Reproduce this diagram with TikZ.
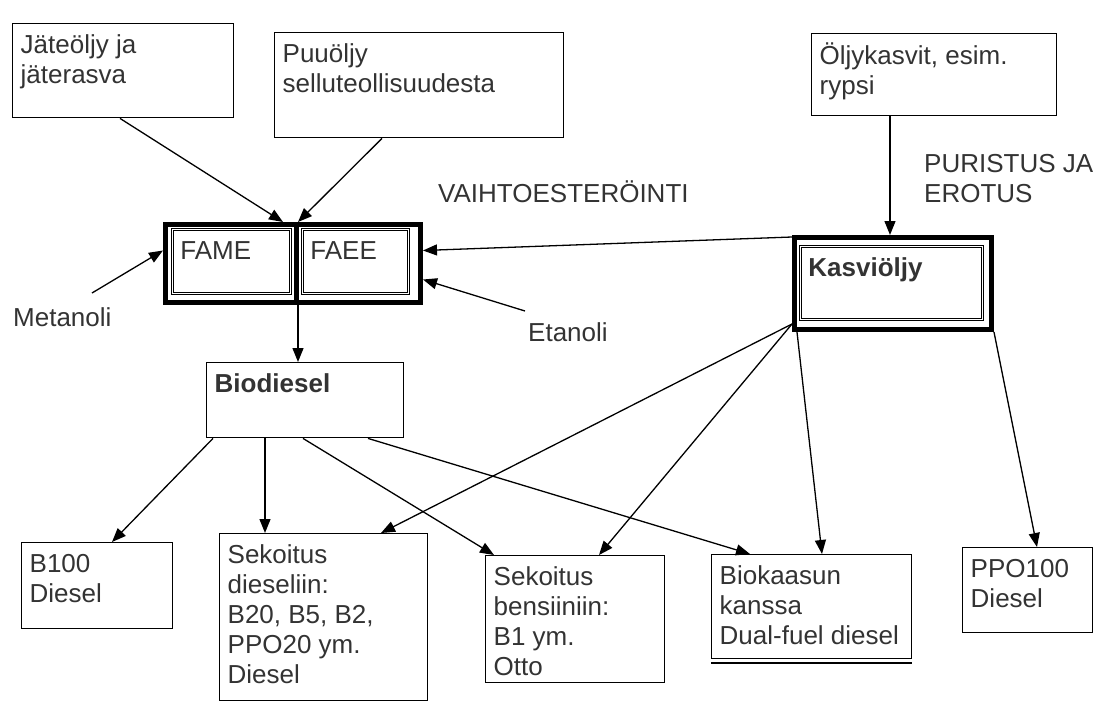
\documentclass[tikz,border=0pt]{standalone}
\usepackage{fontspec}
\setmainfont{Liberation Sans}
\usetikzlibrary{arrows.meta}
\def\boxtext(#1,#2)#3{\parbox[t][\dimexpr#2pt-18pt\relax][t]{\dimexpr#1pt-16pt\relax}{\raggedright\strut#3}}

\begin{document}
\begin{tikzpicture}[x=1pt, y=-1pt,
	every node/.style={font=\fontsize{26}{30}\selectfont, text=black!80},
	box/.style={draw, line width=1.4pt, anchor=north west, inner xsep=8pt, inner ysep=9pt},
	inbox/.style={box, double, double distance=1.6pt, line width=0.8pt},
	heavybox/.style={draw, line width=5pt, anchor=north west, inner sep=0pt},
	lbl/.style={anchor=base west, inner sep=0pt},
	arr/.style={-{Triangle[length=14pt,width=11pt]}, line width=1.3pt}]
			%%%%% FRAME %%%%%
			\useasboundingbox (0,0) rectangle (1104,709);
			
			%%%%% RAW MATERIALS %%%%%
			\node[box] (jate) at (12,23) {\boxtext(221,94){Jäteöljy ja\\jäterasva}};
			\node[box] (puu) at (274,32) {\boxtext(289,105){Puuöljy\\selluteollisuudesta}};
			\node[box] (oljy) at (811,33) {\boxtext(245,82){Öljykasvit, esim.\\rypsi}};
			
			%%%%% ESTERS %%%%%
			\node[heavybox, minimum width=255pt, minimum height=78pt] (ester) at (163,222) {};
			\node[inbox] (fame) at (172,229) {\boxtext(118,64){FAME}};
			\node[inbox] (faee) at (302,229) {\boxtext(106,64){FAEE}};
			\draw[line width=5pt] ([xshift=133pt]ester.north west) -- ([xshift=133pt]ester.south west);
			
			%%%%% VEGETABLE OIL %%%%%
			\node[heavybox, minimum width=197pt, minimum height=92pt] (kasvi) at (792,235) {};
			\node[inbox] (kasvi-in) at (800,246) {\boxtext(182,73){\bfseries Kasviöljy}};
			
			\node[box] (bio) at (206,362) {\boxtext(197,75){\bfseries Biodiesel}};
			
			%%%%% USES %%%%%
			\node[box] (b100) at (21,542) {\boxtext(151,86){B100\\Diesel}};
			\node[box] (sekd) at (219,533) {\boxtext(208,167){Sekoitus\\dieseliin:\\B20, B5, B2,\\PPO20 ym.\\Diesel}};
			\node[box] (sekb) at (485,555) {\boxtext(179,127){Sekoitus\\bensiiniin:\\B1 ym.\\Otto}};
			\node[box] (biok) at (711,554) {\boxtext(200,104){Biokaasun\\kanssa\\Dual-fuel diesel}};
			\draw[line width=1.4pt] ([yshift=-3.5pt]biok.south west) -- ([yshift=-3.5pt]biok.south east);
			\node[box] (ppo) at (962,547) {\boxtext(130,85){PPO100\\Diesel}};
			
			%%%%% LABELS %%%%%
			\node[lbl] (meta) at (13,326) {Metanoli};
			\node[lbl] (eta) at (528,341) {Etanoli};
			\node[lbl] (vaiht) at (438,202) {VAIHTOESTERÖINTI};
			\node[lbl, anchor=north west, align=left] (purist) at (924,154) {PURISTUS JA\\EROTUS};
			
			%%%%% ARROWS %%%%%
			\draw[arr] ([xshift=108pt]jate.south west) -- ([xshift=120pt]ester.north west);
			\draw[arr] ([xshift=108pt]puu.south west) -- ([xshift=135pt]ester.north west);
			\draw[arr] ([xshift=79pt,yshift=33pt]meta.base west) -- ([yshift=13pt]ester.west);
			\draw[arr] ([yshift=-2pt]kasvi.north west) -- ([yshift=13pt]ester.east);
			\draw[arr] ([xshift=-3pt,yshift=30pt]eta.base west) -- ([yshift=-16pt]ester.east);
			\draw[arr] ([xshift=135pt]ester.south west) -- ([xshift=92pt]bio.north west);
			\draw[arr] ([xshift=79pt]oljy.south west) -- ([xshift=98pt]kasvi.north west);
			
			\draw[arr] ([xshift=7pt]bio.south west) -- ([xshift=91pt]b100.north west);
			\draw[arr] ([xshift=59pt]bio.south west) -- ([xshift=46pt]sekd.north west);
			\draw[arr] ([xshift=97pt]bio.south west) -- ([xshift=9pt]sekb.north west);
			\draw[arr] ([xshift=162pt]bio.south west) -- ([xshift=39pt]biok.north west);
			
			\draw[arr] ([yshift=8pt]kasvi.south west) -- ([xshift=162pt]sekd.north west);
			\draw[arr] ([yshift=8pt]kasvi.south west) -- ([xshift=114pt]sekb.north west);
			\draw[arr] ([xshift=5pt]kasvi.south west) -- ([xshift=111pt]biok.north west);
			\draw[arr] (kasvi.south east) -- ([xshift=75pt]ppo.north west);
\end{tikzpicture}
\end{document}
